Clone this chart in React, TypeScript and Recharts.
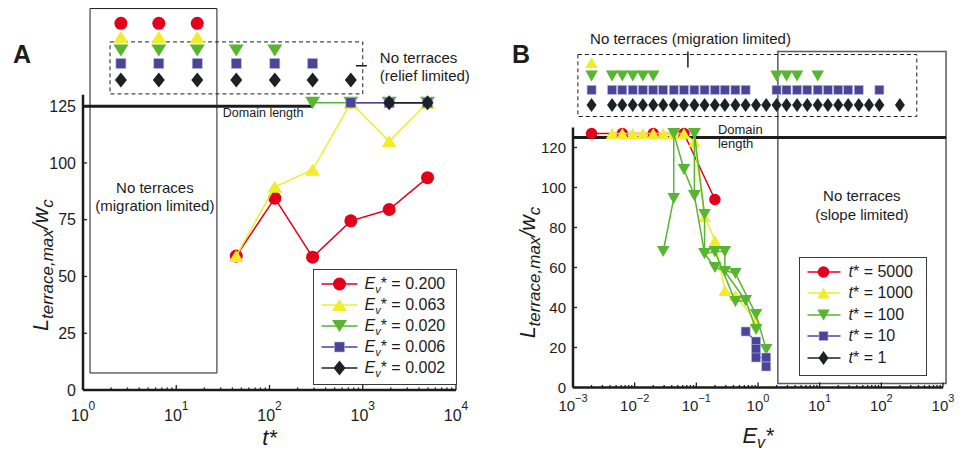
import React from "react";
import {
  ComposedChart,
  Legend,
  ReferenceArea,
  ReferenceDot,
  ReferenceLine,
  Scatter,
  XAxis,
  YAxis,
} from "recharts";

const FONT = "'Liberation Sans', Arial, Helvetica, sans-serif";
const INK = "#1c1c1c";

const RED = "#e3001b";
const YELLOW = "#f1ec2c";
const GREEN = "#58b531";
const BLUE = "#4b4597";
const BLACK = "#1b2225";

// ---- panel A: L vs t* for five values of Ev*
const A_EV_200 = [
  { x: 44, y: 59 }, { x: 114, y: 84.5 }, { x: 290, y: 58.5 },
  { x: 745, y: 74.5 }, { x: 1920, y: 79.5 }, { x: 4950, y: 93.5 },
];
const A_EV_063 = [
  { x: 44, y: 59 }, { x: 114, y: 89.5 }, { x: 290, y: 97 },
  { x: 745, y: 126.5 }, { x: 1920, y: 109.5 }, { x: 4950, y: 126.5 },
];
const A_EV_020 = [{ x: 290, y: 126.5 }, { x: 745, y: 126.5 }, { x: 1920, y: 126.5 }, { x: 4950, y: 126.5 }];
const A_EV_006 = [{ x: 745, y: 126.5 }, { x: 1920, y: 126.5 }, { x: 4950, y: 126.5 }];
const A_EV_002 = [{ x: 1920, y: 126.5 }, { x: 4950, y: 126.5 }];

// runs with no terraces (plotted in rows above the axis)
const A_NT_200 = [2.55, 6.5, 16.8];
const A_NT_063 = [2.55, 6.5, 16.8];
const A_NT_020 = [2.55, 6.5, 16.8, 44, 114];
const A_NT_006 = [2.55, 6.5, 16.8, 44, 114, 290];
const A_NT_002 = [2.55, 6.5, 16.8, 44, 114, 290, 745];
const A_ROW_LEVELS = [161.5, 155.5, 149.5, 143.8, 136.5];

const A_MAJOR = [1, 10, 100, 1000, 10000];
const A_EXP = ["0", "1", "2", "3", "4"];
const A_YTICKS = [0, 25, 50, 75, 100, 125];
const A_LEGEND = ["0.200", "0.063", "0.020", "0.006", "0.002"];

// ---- panel B: L vs Ev* for five values of t*
const B_T5000 = [
  { x: 0.002, y: 127 }, { x: 0.0063, y: 127 }, { x: 0.02, y: 127 },
  { x: 0.063, y: 127 }, { x: 0.2, y: 94 },
];
const B_T1000 = [
  { x: 0.0043, y: 127 }, { x: 0.0063, y: 127 }, { x: 0.0093, y: 127 }, { x: 0.0136, y: 127 },
  { x: 0.02, y: 127 }, { x: 0.029, y: 127 }, { x: 0.043, y: 127 }, { x: 0.063, y: 127 },
  { x: 0.093, y: 123 }, { x: 0.136, y: 85.5 }, { x: 0.2, y: 73.5 }, { x: 0.29, y: 48.5 },
  { x: 0.43, y: 46 }, { x: 0.93, y: 33 },
];
const B_T100_RUN1 = [{ x: 0.043, y: 127 }, { x: 0.043, y: 94.5 }, { x: 0.029, y: 68 }];
const B_T100_RUN2 = [
  { x: 0.043, y: 127 }, { x: 0.063, y: 109 }, { x: 0.093, y: 96 }, { x: 0.136, y: 67 },
  { x: 0.2, y: 60 }, { x: 0.43, y: 57 }, { x: 0.93, y: 36.5 }, { x: 1.36, y: 19 },
];
const B_T100_RUN3 = [
  { x: 0.093, y: 127 }, { x: 0.136, y: 86.5 }, { x: 0.136, y: 67 }, { x: 0.2, y: 68 },
  { x: 0.43, y: 43 }, { x: 0.63, y: 43.5 }, { x: 0.93, y: 29 },
];
const B_T100_RUN4 = [{ x: 0.2, y: 68 }, { x: 0.29, y: 68 }, { x: 0.29, y: 58 }, { x: 0.63, y: 43.5 }];
const B_T100_RUN5 = [{ x: 0.093, y: 127 }, { x: 0.093, y: 96 }];
const B_T10 = [
  { x: 0.63, y: 28 }, { x: 0.93, y: 23 }, { x: 0.93, y: 19.3 },
  { x: 0.93, y: 15 }, { x: 1.36, y: 15 }, { x: 1.36, y: 10.5 },
];

const B_NT_1000 = [0.002];
const B_NT_100 = [0.002, 0.0043, 0.0063, 0.0093, 0.0136, 0.02, 2.0, 2.9, 4.3, 9.3];
const B_NT_10 = [
  0.002, 0.0043, 0.0063, 0.0093, 0.0136, 0.02, 0.029, 0.043, 0.063, 0.093, 0.136, 0.2,
  0.29, 0.43, 0.63, 2.0, 2.9, 4.3, 6.3, 9.3, 13.6, 20, 29, 43, 93,
];
const B_NT_1 = [
  0.002, 0.0043, 0.0063, 0.0093, 0.0136, 0.02, 0.029, 0.043, 0.063, 0.093, 0.136, 0.2,
  0.29, 0.43, 0.63, 0.93, 1.36, 2.0, 2.9, 4.3, 6.3, 9.3, 13.6, 20, 29, 43, 63, 93, 200,
];
const B_ROW_LEVELS = [162.5, 155.8, 148.8, 141.3];

const B_MAJOR = [0.001, 0.01, 0.1, 1, 10, 100, 1000];
const B_EXP = ["\u22123", "\u22122", "\u22121", "0", "1", "2", "3"];
const B_YTICKS = [0, 20, 40, 60, 80, 100, 120];
const B_LEGEND = ["5000", "1000", "100", "10", "1"];

const minorTicks = (majors: number[]) =>
  majors.slice(0, -1).flatMap((m) => [2, 3, 4, 5, 6, 7, 8, 9].map((k) => k * m));
const A_TICKS = [...A_MAJOR, ...minorTicks(A_MAJOR)];
const B_TICKS = [...B_MAJOR, ...minorTicks(B_MAJOR)];

type Kind = "circle" | "up" | "down" | "square" | "diamond";
type Sizes = { circle: number; triW: number; triH: number; sq: number; diaW: number; diaH: number };
const SIZE_A: Sizes = { circle: 13, triW: 15, triH: 12, sq: 10, diaW: 12, diaH: 15 };
const SIZE_B: Sizes = { circle: 11.5, triW: 12.5, triH: 11, sq: 9, diaW: 10, diaH: 14 };

const KINDS: Kind[] = ["circle", "up", "down", "square", "diamond"];
const COLORS = [RED, YELLOW, GREEN, BLUE, BLACK];

function Marker({ cx, cy, kind, color, s }: { cx: number; cy: number; kind: Kind; color: string; s: Sizes }) {
  if (cx == null || cy == null) return null;
  if (kind === "circle") return <circle cx={cx} cy={cy} r={s.circle / 2} fill={color} />;
  if (kind === "up") {
    const w = s.triW / 2, h = s.triH / 2;
    return <polygon points={`${cx},${cy - h} ${cx + w},${cy + h} ${cx - w},${cy + h}`} fill={color} />;
  }
  if (kind === "down") {
    const w = s.triW / 2, h = s.triH / 2;
    return <polygon points={`${cx - w},${cy - h} ${cx + w},${cy - h} ${cx},${cy + h}`} fill={color} />;
  }
  if (kind === "square")
    return (
      <rect x={cx - s.sq / 2} y={cy - s.sq / 2} width={s.sq} height={s.sq} fill={color}
        stroke="#b7b3dc" strokeWidth={0.6} />
    );
  const w = s.diaW / 2, h = s.diaH / 2;
  return <polygon points={`${cx},${cy - h} ${cx + w},${cy} ${cx},${cy + h} ${cx - w},${cy}`} fill={color} />;
}

function series(key: string, data: { x: number; y: number }[], idx: number, s: Sizes, withLine = true) {
  const color = COLORS[idx];
  return (
    <Scatter
      key={key}
      data={data}
      fill={color}
      line={withLine ? { stroke: color, strokeWidth: 1.5 } : false}
      lineJointType="linear"
      legendType="none"
      isAnimationActive={false}
      shape={(p: any) => <Marker cx={p.cx} cy={p.cy} kind={KINDS[idx]} color={color} s={s} />}
    />
  );
}

const row = (xs: number[], level: number) => xs.map((x) => ({ x, y: level }));

function XTick(p: any) {
  const { x, y, payload, majors, exps, size, sup, dy, supDy } = p;
  const v = payload.value;
  const i = majors.findIndex((m: number) => Math.abs(v - m) / m < 1e-6);
  return (
    <g>
      <line x1={x} x2={x} y1={y} y2={y - (i >= 0 ? 5 : 2.5)} stroke={INK} strokeWidth={1.3} />
      {i >= 0 && (
        <text x={x} y={y + dy} textAnchor="middle" fontSize={size} fontFamily={FONT} fill={INK}>
          10
          <tspan dy={supDy} fontSize={sup}>{exps[i]}</tspan>
        </text>
      )}
    </g>
  );
}

function YTick(p: any) {
  const { x, y, payload, size } = p;
  return (
    <g>
      <line x1={x} x2={x + 4} y1={y} y2={y} stroke={INK} strokeWidth={1.3} />
      <text x={x - 7} y={y + size * 0.36} textAnchor="end" fontSize={size} fontFamily={FONT} fill={INK}>
        {payload.value}
      </text>
    </g>
  );
}

function YTitle({ vb, bx, mid, max, shift }: { vb: any; bx: number; mid: number; max: number; shift: number }) {
  if (!vb) return null;
  const cy = vb.y + vb.height * (1 - mid / max) + shift;
  const cx = vb.x + bx;
  return (
    <text x={cx} y={cy} transform={`rotate(-90 ${cx} ${cy})`} textAnchor="middle" fontFamily={FONT}
      fontStyle="italic" fill={INK} fontSize={21.5}>
      L
      <tspan fontSize={17} dy={5}>terrace,max</tspan>
      <tspan dy={-5}>/w</tspan>
      <tspan fontSize={17} dy={5}>c</tspan>
    </text>
  );
}

function Note({ cx, cy, lines, size = 15, anchor = "start", gap = 18 }: any) {
  return (
    <text x={cx} y={cy} fontSize={size} textAnchor={anchor} fill={INK} fontFamily={FONT}>
      {lines.map((l: string, i: number) => (
        <tspan key={i} x={cx} dy={i === 0 ? 0 : gap}>{l}</tspan>
      ))}
    </text>
  );
}

function LegendBox({ labels, s, render, markX, lineX, textX, top0, rowH }: any) {
  return (
    <div style={{
      position: "relative", width: "100%", height: "100%", boxSizing: "border-box",
      border: "1.5px solid #3a3a3a", background: "#fff", fontFamily: FONT, color: INK,
    }}>
      {labels.map((lab: string, i: number) => (
        <div key={lab} style={{ position: "absolute", left: 0, top: top0 + i * rowH - 11, height: 22, width: "100%" }}>
          <svg width={textX} height={22} style={{ position: "absolute", left: 0, top: 0 }}>
            <line x1={lineX[0]} x2={lineX[1]} y1={11} y2={11} stroke={COLORS[i]} strokeWidth={1.5} />
            <Marker cx={markX} cy={11} kind={KINDS[i]} color={COLORS[i]} s={s} />
          </svg>
          <div style={{ position: "absolute", left: textX, top: 0, lineHeight: "22px", fontSize: 16, whiteSpace: "nowrap" }}>
            {render(lab)}
          </div>
        </div>
      ))}
    </div>
  );
}

const AXIS = { stroke: INK, strokeWidth: 2.5 };

function PanelA() {
  return (
    <ComposedChart width={480} height={452} margin={{ top: 4, right: 24, bottom: 0, left: 0 }}>
      <XAxis type="number" dataKey="x" scale="log" domain={[1, 10000]} allowDataOverflow ticks={A_TICKS}
        interval={0} height={62} tickSize={0} tickMargin={0} axisLine={AXIS}
        tick={(p: any) => <XTick {...p} majors={A_MAJOR} exps={A_EXP} size={16} sup={12} dy={31} supDy={-11} />}
        label={(p: any) => p.viewBox ? (
          <text x={p.viewBox.x + p.viewBox.width / 2} y={p.viewBox.y + 55} textAnchor="middle"
            fontSize={22} fontStyle="italic" fontFamily={FONT} fill={INK}>t*</text>
        ) : null} />
      <YAxis type="number" dataKey="y" domain={[0, 170]} allowDataOverflow ticks={A_YTICKS} interval={0}
        width={83} tickSize={0} tickMargin={0} axisLine={false}
        tick={(p: any) => <YTick {...p} size={16} />}
        label={(p: any) => <YTitle vb={p.viewBox} bx={48} mid={62.5} max={170} shift={17} />} />

      <ReferenceArea x1={1.19} x2={27.3} y1={7.5} y2={168} fill="none" stroke={INK} strokeWidth={1} ifOverflow="visible" />
      <ReferenceArea x1={1.95} x2={1000} y1={130.4} y2={153.3} fill="none" stroke={INK} strokeWidth={1}
        strokeDasharray="4 3" ifOverflow="visible" />
      <ReferenceLine segment={[{ x: 1, y: 0 }, { x: 1, y: 130 }]} stroke={INK} strokeWidth={2.5} ifOverflow="visible" />
      <ReferenceLine segment={[{ x: 1, y: 125 }, { x: 290, y: 125 }]} stroke={INK} strokeWidth={3} ifOverflow="visible" />
      <ReferenceLine segment={[{ x: 844, y: 142.8 }, { x: 1107, y: 142.8 }]} stroke={INK} strokeWidth={1.5} ifOverflow="visible" />

      <ReferenceDot x={5.9} y={86.8} r={0} ifOverflow="visible"
        shape={(p: any) => <Note cx={p.cx} cy={p.cy} lines={["No terraces", "(migration limited)"]} anchor="middle" />} />
      <ReferenceDot x={1525} y={144} r={0} ifOverflow="visible"
        shape={(p: any) => <Note cx={p.cx} cy={p.cy} lines={["No terraces", "(relief limited)"]} />} />
      <ReferenceDot x={31.6} y={120.2} r={0} ifOverflow="visible"
        shape={(p: any) => <Note cx={p.cx} cy={p.cy} lines={["Domain length"]} size={12.5} />} />

      {series("a0", A_EV_200, 0, SIZE_A)}
      {series("a1", A_EV_063, 1, SIZE_A)}
      {series("a2", A_EV_020, 2, SIZE_A)}
      {series("a3", A_EV_006, 3, SIZE_A)}
      {series("a4", A_EV_002, 4, SIZE_A)}
      {series("n0", row(A_NT_200, A_ROW_LEVELS[0]), 0, SIZE_A, false)}
      {series("n1", row(A_NT_063, A_ROW_LEVELS[1]), 1, SIZE_A, false)}
      {series("n2", row(A_NT_020, A_ROW_LEVELS[2]), 2, SIZE_A, false)}
      {series("n3", row(A_NT_006, A_ROW_LEVELS[3]), 3, SIZE_A, false)}
      {series("n4", row(A_NT_002, A_ROW_LEVELS[4]), 4, SIZE_A, false)}

      <Legend layout="horizontal" verticalAlign="middle" align="center"
        wrapperStyle={{ left: 313, top: 269, width: 144, height: 116 }}
        content={() => (
          <LegendBox labels={A_LEGEND} s={SIZE_A} markX={25.5} lineX={[7.5, 43.5]} textX={50.5} top0={13.5} rowH={21}
            render={(v: string) => (
              <span>
                <i>E</i>
                <i style={{ fontSize: 11, position: "relative", top: 4 }}>v</i>* = {v}
              </span>
            )} />
        )} />
    </ComposedChart>
  );
}

function PanelB() {
  return (
    <ComposedChart width={485} height={452} margin={{ top: 7.5, right: 26, bottom: 0, left: 0 }}>
      <XAxis type="number" dataKey="x" scale="log" domain={[0.001, 1000]} allowDataOverflow ticks={B_TICKS}
        interval={0} height={64.5} tickSize={0} tickMargin={0} axisLine={AXIS}
        tick={(p: any) => <XTick {...p} majors={B_MAJOR} exps={B_EXP} size={15} sup={11} dy={23} supDy={-9} />}
        label={(p: any) => p.viewBox ? (
          <text x={p.viewBox.x + p.viewBox.width / 2} y={p.viewBox.y + 55} textAnchor="middle"
            fontSize={22} fontStyle="italic" fontFamily={FONT} fill={INK}>
            E<tspan fontSize={16} dy={5}>v</tspan><tspan dy={-5}>*</tspan>
          </text>
        ) : null} />
      <YAxis type="number" dataKey="y" domain={[0, 190]} allowDataOverflow ticks={B_YTICKS} interval={0}
        width={89} tickSize={0} tickMargin={0} axisLine={false}
        tick={(p: any) => <YTick {...p} size={15} />}
        label={(p: any) => <YTitle vb={p.viewBox} bx={51} mid={62.5} max={190} shift={10} />} />

      <ReferenceArea x1={2.1} x2={1120} y1={2} y2={168} fill="none" stroke="#5a5a5a" strokeWidth={1.5} ifOverflow="visible" />
      <ReferenceArea x1={0.0012} x2={376} y1={135.5} y2={166.5} fill="none" stroke={INK} strokeWidth={1}
        strokeDasharray="4 3" ifOverflow="visible" />
      <ReferenceLine segment={[{ x: 0.001, y: 0 }, { x: 0.001, y: 130 }]} stroke={INK} strokeWidth={2.5} ifOverflow="visible" />
      <ReferenceLine segment={[{ x: 0.001, y: 125 }, { x: 1120, y: 125 }]} stroke={INK} strokeWidth={3} ifOverflow="visible" />
      <ReferenceLine segment={[{ x: 0.073, y: 160 }, { x: 0.073, y: 168 }]} stroke={INK} strokeWidth={1.5} ifOverflow="visible" />

      <ReferenceDot x={0.00189} y={171.75} r={0} ifOverflow="visible"
        shape={(p: any) => <Note cx={p.cx} cy={p.cy} lines={["No terraces (migration limited)"]} />} />
      <ReferenceDot x={0.224} y={126.75} r={0} ifOverflow="visible"
        shape={(p: any) => <Note cx={p.cx} cy={p.cy} lines={["Domain", "length"]} size={13} gap={14} />} />
      <ReferenceDot x={48.3} y={93.25} r={0} ifOverflow="visible"
        shape={(p: any) => <Note cx={p.cx} cy={p.cy} lines={["No terraces", "(slope limited)"]} anchor="middle" gap={19} />} />

      {series("b0", B_T5000, 0, SIZE_B)}
      {series("b1", B_T1000, 1, SIZE_B)}
      {series("b2a", B_T100_RUN1, 2, SIZE_B)}
      {series("b2b", B_T100_RUN2, 2, SIZE_B)}
      {series("b2c", B_T100_RUN3, 2, SIZE_B)}
      {series("b2d", B_T100_RUN4, 2, SIZE_B)}
      {series("b2e", B_T100_RUN5, 2, SIZE_B)}
      {series("b3", B_T10, 3, SIZE_B)}
      {series("m1", row(B_NT_1000, B_ROW_LEVELS[0]), 1, SIZE_B, false)}
      {series("m2", row(B_NT_100, B_ROW_LEVELS[1]), 2, SIZE_B, false)}
      {series("m3", row(B_NT_10, B_ROW_LEVELS[2]), 3, SIZE_B, false)}
      {series("m4", row(B_NT_1, B_ROW_LEVELS[3]), 4, SIZE_B, false)}

      <Legend layout="horizontal" verticalAlign="middle" align="center"
        wrapperStyle={{ left: 315, top: 257, width: 128, height: 119 }}
        content={() => (
          <LegendBox labels={B_LEGEND} s={SIZE_B} markX={23.5} lineX={[7.5, 40.5]} textX={48.5} top0={13.5} rowH={21.5}
            render={(v: string) => (
              <span><i>t</i>* = {v}</span>
            )} />
        )} />
    </ComposedChart>
  );
}

export default function App() {
  return (
    <div style={{ position: "absolute", left: 0, top: 0, width: 969, height: 452, background: "#fff", fontFamily: FONT }}>
      <div style={{ position: "absolute", left: 0, top: 0 }}>
        <PanelA />
      </div>
      <div style={{ position: "absolute", left: 484, top: 0 }}>
        <PanelB />
      </div>
      <div style={{ position: "absolute", left: 13, top: 40, fontSize: 25, fontWeight: "bold", color: INK }}>A</div>
      <div style={{ position: "absolute", left: 512, top: 40, fontSize: 25, fontWeight: "bold", color: INK }}>B</div>
    </div>
  );
}
